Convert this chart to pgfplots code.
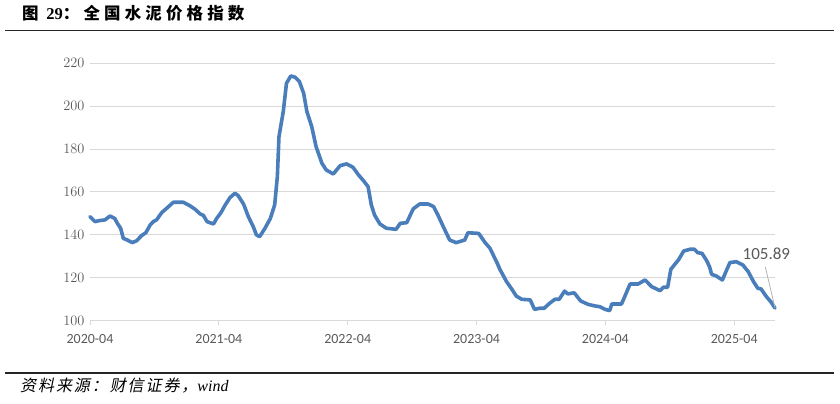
\documentclass[border=0pt]{standalone}
\usepackage{fontspec}
\usepackage{pgfplots}
\pgfplotsset{compat=1.18}
\setmainfont{Carlito}
\newfontfamily\cjk{Noto Sans CJK SC}
\newfontfamily\cjktitle[LetterSpace=25]{Noto Sans CJK SC}
\newfontfamily\cjkit[FakeSlant=0.2,LetterSpace=12]{Noto Sans CJK SC}
\newfontfamily\serif{Liberation Serif}
\definecolor{lineblue}{HTML}{4A7EBB}
\definecolor{ticktext}{HTML}{595959}
\definecolor{gridgray}{HTML}{D9D9D9}
\begin{document}
\begin{tikzpicture}
\useasboundingbox (0,0) rectangle (840bp,404bp);
% header and footer
\node[anchor=base west, inner sep=0] at (22bp,384bp) {\fontsize{16.5bp}{16.5bp}\selectfont{\cjk\bfseries 图}\hspace{4bp} {\serif\bfseries 29}{\cjktitle\bfseries ：全国水泥价格指数}};
\draw[line width=1.5bp, black!85] (5bp,373.3bp) -- (834bp,373.3bp);
\draw[line width=1.5bp, black!85] (5bp,31bp) -- (834bp,31bp);
\node[anchor=base west, inner sep=0] at (20bp,13bp) {\fontsize{16bp}{16bp}\selectfont{\cjkit 资料来源：财信证券，}{\serif\itshape wind}};
\begin{axis}[
  at={(90bp,83.3bp)}, anchor=south west,
  scale only axis, width=685bp, height=257.4bp,
  xmin=0, xmax=63.8, ymin=100, ymax=220,
  clip=false,
  axis x line*=bottom, axis y line*=left,
  x axis line style={draw=gridgray, line width=1bp, -},
  y axis line style={draw=none},
  ytick style={draw=none},
  xtick style={draw=gridgray, line width=1bp},
  xtick align=outside, major tick length=4bp,
  ymajorgrids, grid style={draw=gridgray, line width=1bp},
  xtick={0,12,24,36,48,60},
  xticklabels={2020-04,2021-04,2022-04,2023-04,2024-04,2025-04},
  ytick={100,120,...,220},
  tick label style={font=\fontsize{14bp}{14bp}\selectfont, text=ticktext},
  yticklabel style={xshift=-2bp},
  xticklabel style={yshift=-6bp},
]
\addplot[lineblue, line width=3.6bp, line join=round, line cap=round] coordinates {
(0,148.5) (0.47,146.2) (0.93,146.7) (1.4,147) (1.86,148.8) (2.3,147.7) (2.55,145.4) (2.86,143)
(3.1,138.4) (3.48,137.6) (3.94,136.4) (4.35,137.3) (4.81,139.7) (5.2,141) (5.6,144.6) (5.9,146.2)
(6.2,147) (6.68,150.4) (7.14,152.4) (7.76,155.2) (8.7,155.2) (9.3,153.6) (9.8,151.9) (10.25,149.8)
(10.56,149.1) (10.9,146.2) (11.5,145.1) (11.8,147.7) (12.2,150.4) (12.6,154) (13.04,157.4) (13.5,159.4)
(13.8,158.3) (14.3,154.4) (14.75,148.5) (15.2,143.9) (15.5,140) (15.8,139.2) (16.3,143.1) (16.8,147.7)
(17.2,154) (17.45,167.2) (17.6,185.8) (18.0,197.5) (18.3,210.7) (18.7,214.1) (19.1,213.5) (19.5,211.5)
(19.9,206) (20.2,197.5) (20.65,190.5) (21.06,181.1) (21.6,173.4) (22.0,170.3) (22.66,168.4) (23.3,172.3)
(23.9,173.1) (24.5,171.5) (25.0,168) (25.5,165.1) (25.9,162.5) (26.2,154) (26.5,149.3) (27.0,145.1)
(27.6,143.1) (28.5,142.6) (28.9,145.4) (29.5,145.7) (30.1,152.1) (30.7,154.4) (31.5,154.4) (32.0,153.2)
(32.4,149.3) (32.9,143.9) (33.5,137.6) (34.1,136.4) (34.9,137.6) (35.2,141) (36.2,140.7) (36.8,136.4)
(37.25,133.8) (37.9,127.1) (38.2,123.7) (38.8,118.2) (39.3,114.6) (39.7,111.5) (40.2,110) (41.0,109.7)
(41.4,105.3) (41.9,105.8) (42.3,105.8) (42.8,108.1) (43.3,110) (43.7,110) (44.2,113.8) (44.5,112.5)
(45.1,113) (45.7,109.2) (46.4,107.6) (47.0,106.9) (47.5,106.5) (47.96,105.3) (48.4,104.7) (48.6,107.8)
(49.5,107.8) (49.8,111.2) (50.3,117.1) (51.05,117.1) (51.7,119) (52.3,115.9) (53.1,114) (53.4,115.6)
(53.8,115.6) (54.1,124) (54.8,128.3) (55.3,132.5) (55.9,133.3) (56.3,133.3) (56.6,131.7) (57.0,131.4)
(57.4,128.3) (57.7,125.2) (57.9,121.6) (58.3,120.9) (58.9,119) (59.3,123.7) (59.6,127.1) (60.2,127.5)
(60.8,126) (61.3,122.9) (61.8,118.2) (62.2,115.1) (62.5,114.8) (63.0,111.2) (63.4,108.9) (63.8,105.89)
};
\draw[gray!60, line width=0.8bp] (axis cs:62.9,125) -- (axis cs:63.8,106);
\node[text=ticktext, inner sep=0] at (axis cs:63.0,131.1) {\fontsize{17bp}{17bp}\selectfont 105.89};
\end{axis}
\end{tikzpicture}
\end{document}
